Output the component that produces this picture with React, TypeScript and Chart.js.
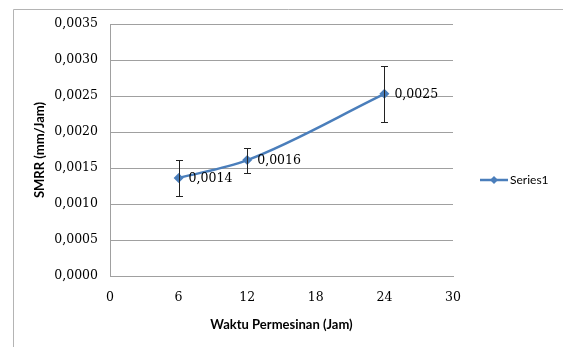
import React, { useEffect, useRef } from "react";
import { Chart, registerables } from "chart.js";

Chart.register(...registerables);

const hours = [6, 12, 24];
const smrr = [0.00136, 0.00161, 0.00253];
const smrrError = [0.000247, 0.000174, 0.000386];
const yTicks = [0, 0.0005, 0.001, 0.0015, 0.002, 0.0025, 0.003, 0.0035];
const xTicks = [0, 6, 12, 18, 24, 30];
const seriesName = "Series1";

const fmt = (v: number) => v.toFixed(4).replace(".", ",");

const extrasPlugin = {
  id: "extras",
  beforeDraw(chart: any) {
    const { ctx, width, height } = chart;
    ctx.save();
    ctx.fillStyle = "#ffffff";
    ctx.fillRect(0, 0, width, height);
    ctx.strokeStyle = "#b4b4b4";
    ctx.lineWidth = 1;
    ctx.beginPath();
    ctx.moveTo(13.5, height);
    ctx.lineTo(13.5, 9.5);
    ctx.lineTo(width, 9.5);
    ctx.stroke();
    ctx.restore();
  },
  afterDatasetsDraw(chart: any) {
    const { ctx } = chart;
    const xs = chart.scales.x;
    const ys = chart.scales.y;
    ctx.save();
    ctx.strokeStyle = "#222222";
    ctx.lineWidth = 1;
    hours.forEach((h, i) => {
      const px = Math.round(xs.getPixelForValue(h)) + 0.5;
      const top = Math.round(ys.getPixelForValue(smrr[i] + smrrError[i])) + 0.5;
      const bot = Math.round(ys.getPixelForValue(smrr[i] - smrrError[i])) + 0.5;
      ctx.beginPath();
      ctx.moveTo(px, top);
      ctx.lineTo(px, bot);
      ctx.moveTo(px - 3.5, top);
      ctx.lineTo(px + 3.5, top);
      ctx.moveTo(px - 3.5, bot);
      ctx.lineTo(px + 3.5, bot);
      ctx.stroke();
    });
    ctx.fillStyle = "#000000";
    ctx.font = "12.5px 'DejaVu Serif'";
    ctx.textAlign = "left";
    ctx.textBaseline = "middle";
    hours.forEach((h, i) => {
      const px = xs.getPixelForValue(h);
      const py = ys.getPixelForValue(smrr[i]);
      ctx.fillText(fmt(smrr[i]), px + 10, py + 1);
    });
    const ly = 180;
    ctx.strokeStyle = "#4a7ebb";
    ctx.lineWidth = 2.5;
    ctx.beginPath();
    ctx.moveTo(480, ly);
    ctx.lineTo(508, ly);
    ctx.stroke();
    ctx.fillStyle = "#4a7ebb";
    ctx.beginPath();
    ctx.moveTo(494, ly - 4);
    ctx.lineTo(498, ly);
    ctx.lineTo(494, ly + 4);
    ctx.lineTo(490, ly);
    ctx.closePath();
    ctx.fill();
    ctx.fillStyle = "#000000";
    ctx.font = "12px Lato";
    ctx.textBaseline = "middle";
    ctx.fillText(seriesName, 510, ly);
    ctx.restore();
  },
};

export default function App() {
  const ref = useRef<HTMLCanvasElement | null>(null);
  useEffect(() => {
    document.body.style.margin = "0";
    const canvas = ref.current;
    if (!canvas) return;
    const chart = new Chart(canvas, {
      type: "line",
      data: {
        datasets: [
          {
            label: seriesName,
            data: hours.map((h, i) => ({ x: h, y: smrr[i] })),
            borderColor: "#4a7ebb",
            backgroundColor: "#4a7ebb",
            borderWidth: 2.5,
            pointStyle: "rectRot",
            pointRadius: 5,
            pointBorderWidth: 0,
            cubicInterpolationMode: "monotone",
            fill: false,
          },
        ],
      },
      options: {
        responsive: false,
        animation: false,
        events: [],
        layout: { padding: { left: 0, top: 24, right: 110, bottom: 0 } },
        plugins: {
          legend: { display: false },
          tooltip: { enabled: false },
        },
        scales: {
          x: {
            type: "linear",
            min: 0,
            max: 30,
            afterBuildTicks: (s: any) => {
              s.ticks = xTicks.map((v) => ({ value: v }));
            },
            afterFit: (s: any) => {
              s.height = 71;
            },
            grid: { display: false, drawTicks: false },
            border: { display: true, color: "#a0a0a0", width: 1 },
            ticks: {
              padding: 14,
              color: "#000000",
              font: { family: "'DejaVu Serif'", size: 12.5 },
              callback: (v: any) => String(v),
            },
            title: {
              display: true,
              text: "Waktu Permesinan (Jam)",
              color: "#000000",
              font: { family: "Lato", size: 13, weight: "bold" },
              padding: { top: 0, bottom: 14 },
            },
          },
          y: {
            type: "linear",
            min: 0,
            max: 0.0035,
            afterBuildTicks: (s: any) => {
              s.ticks = yTicks.map((v) => ({ value: v }));
            },
            afterFit: (s: any) => {
              s.width = 110;
            },
            grid: { color: "#a0a0a0", lineWidth: 1, drawTicks: false },
            border: { display: true, color: "#a0a0a0", width: 1 },
            ticks: {
              padding: 12,
              color: "#000000",
              font: { family: "'DejaVu Serif'", size: 12.5 },
              callback: (v: any) => fmt(Number(v)),
            },
            title: {
              display: true,
              text: "SMRR (mm/Jam)",
              color: "#000000",
              font: { family: "Lato", size: 13, weight: "bold" },
              padding: { top: 32, bottom: 0 },
            },
          },
        },
      },
      plugins: [extrasPlugin],
    } as any);
    return () => chart.destroy();
  }, []);
  return (
    <div style={{ width: 563, height: 347 }}>
      <canvas ref={ref} width={563} height={347} style={{ display: "block" }} />
    </div>
  );
}
